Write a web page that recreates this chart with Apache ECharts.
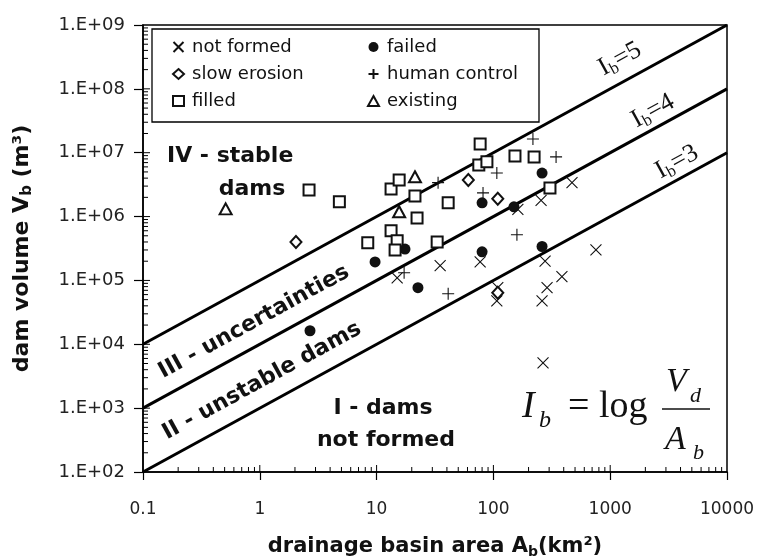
<!DOCTYPE html>
<html>
<head>
<meta charset="utf-8">
<script src="https://cdn.jsdelivr.net/npm/echarts@6/dist/echarts.min.js"></script>
<style>
  html, body { margin: 0; padding: 0; background: #fff; }
  #chart { width: 761px; height: 558px; }
</style>
</head>
<body>
<div id="chart"></div>
<script>
// Landslide dams: drainage basin area A_b (km²) against dam volume V_b (m³), by outcome.
const notFormed = [
  [471, 3.4e6], [256, 1.8e6], [162, 1.3e6], [77, 1.95e5], [277, 2.0e5], [755, 3.0e5],
  [35, 1.7e5], [15, 1.1e5], [109, 7.7e4], [107, 4.8e4], [386, 1.15e5], [288, 7.7e4],
  [261, 4.8e4], [266, 5.1e3]
];
const slowErosion = [[2.04, 4.0e5], [61, 3.75e6], [109, 1.9e6], [109, 6.4e4]];
const filled = [
  [2.64, 2.6e6], [4.8, 1.7e6], [13.3, 2.7e6], [15.6, 3.75e6], [21.3, 2.1e6], [22.2, 9.5e5],
  [13.3, 6.0e5], [8.4, 3.9e5], [15.0, 4.2e5], [14.4, 3.0e5], [33, 4.0e5], [41, 1.64e6],
  [77, 1.37e7], [75, 6.4e6], [88, 7.2e6], [153, 8.9e6], [223, 8.6e6], [305, 2.8e6]
];
const failed = [
  [2.69, 1.63e4], [9.7, 1.95e5], [17.5, 3.1e5], [22.6, 7.7e4], [80, 1.64e6], [80, 2.8e5],
  [150, 1.42e6], [261, 4.8e6], [261, 3.4e5]
];
const humanControl = [
  [33.6, 3.4e6], [81.5, 2.35e6], [107, 4.8e6], [218, 1.64e7], [344, 8.6e6], [159, 5.2e5],
  [17.2, 1.32e5], [41, 6.2e4]
];
const existing = [[0.51, 1.32e6], [21.3, 4.2e6], [15.6, 1.19e6]];

// Blockage index boundaries I_b = log(V/A): end points across the plotted range
const ib3Line = [[0.1, 1e2], [1e4, 1e7]];
const ib4Line = [[0.1, 1e3], [1e4, 1e8]];
const ib5Line = [[0.1, 1e4], [1e4, 1e9]];

// Axis tick labels (one per decade)
const xTickLabels = ['0.1', '1', '10', '100', '1000', '10000'];
const yTickLabels = ['1.E+02', '1.E+03', '1.E+04', '1.E+05', '1.E+06', '1.E+07', '1.E+08', '1.E+09'];

// Logarithmic minor ticks and the inner halves of the decade ticks
const xMinorTicks = [
  0.2, 0.3, 0.4, 0.5, 0.6, 0.7, 0.8, 0.9,
  2, 3, 4, 5, 6, 7, 8, 9,
  20, 30, 40, 50, 60, 70, 80, 90,
  200, 300, 400, 500, 600, 700, 800, 900,
  2000, 3000, 4000, 5000, 6000, 7000, 8000, 9000
];
const xMajorTicks = [1, 10, 100, 1000];
const yMinorTicks = [
  200, 300, 400, 500, 600, 700, 800, 900,
  2e3, 3e3, 4e3, 5e3, 6e3, 7e3, 8e3, 9e3,
  2e4, 3e4, 4e4, 5e4, 6e4, 7e4, 8e4, 9e4,
  2e5, 3e5, 4e5, 5e5, 6e5, 7e5, 8e5, 9e5,
  2e6, 3e6, 4e6, 5e6, 6e6, 7e6, 8e6, 9e6,
  2e7, 3e7, 4e7, 5e7, 6e7, 7e7, 8e7, 9e7,
  2e8, 3e8, 4e8, 5e8, 6e8, 7e8, 8e8, 9e8
];
const yMajorTicks = [1e3, 1e4, 1e5, 1e6, 1e7, 1e8];

const SANS = "'DejaVu Sans', 'Noto Sans', sans-serif";
const SERIF = "'Liberation Serif', 'DejaVu Serif', serif";
const INK = '#111';
const X_MIN = 0.1, Y_MIN = 100;

const crossPath = 'path://M0,0L10,10M10,0L0,10';
const plusPath = 'path://M5,0L5,10M0,5L10,5';

function pointSeries(name, data, symbol, size, filledMark) {
  return {
    name, type: 'scatter', data, symbol, symbolSize: size, z: 5,
    itemStyle: filledMark
      ? { color: INK, borderWidth: 0, opacity: 1 }
      : { color: symbol.indexOf('path://') === 0 ? 'none' : INK, borderColor: INK, borderWidth: 1.1, opacity: 1 }
  };
}

function boundary(name, data) {
  return {
    name, type: 'line', data, symbol: 'none', silent: true, z: 3,
    lineStyle: { color: '#000', width: 3 }
  };
}

// Short ticks drawn inward from the axis lines, placed through the axis scales
function xTickSeries(values, len) {
  return {
    type: 'custom', silent: true, z: 4, clip: false,
    data: values.map(v => [v, Y_MIN]),
    renderItem: (params, api) => {
      const p = api.coord([api.value(0), api.value(1)]);
      return { type: 'line', shape: { x1: p[0], y1: p[1], x2: p[0], y2: p[1] - len },
               style: { stroke: '#000', lineWidth: 1 } };
    }
  };
}
function yTickSeries(values, len) {
  return {
    type: 'custom', silent: true, z: 4, clip: false,
    data: values.map(v => [X_MIN, v]),
    renderItem: (params, api) => {
      const p = api.coord([api.value(0), api.value(1)]);
      return { type: 'line', shape: { x1: p[0], y1: p[1], x2: p[0] + len, y2: p[1] },
               style: { stroke: '#000', lineWidth: 1 } };
    }
  };
}

const boldText = (text, x, y, opts) => Object.assign({
  type: 'text', x, y, z: 6, silent: true,
  style: { text, fontFamily: SANS, fontWeight: 'bold', fontSize: 22, fill: INK,
           align: 'center', verticalAlign: 'middle' }
}, opts || {});

const ANGLE = 28.7 * Math.PI / 180;

const ibRich = {
  a: { fontFamily: SERIF, fontSize: 26, fill: INK, color: INK },
  s: { fontFamily: SERIF, fontSize: 17, fill: INK, color: INK, padding: [12, 0, 0, 0] }
};
const ibLabel = (n, x, y) => ({
  type: 'text', x, y, rotation: ANGLE, z: 6, silent: true,
  style: { text: '{a|I}{s|b}{a|=' + n + '}', rich: ibRich, align: 'center', verticalAlign: 'middle' }
});

const serifText = (text, x, y, size, italic) => ({
  type: 'text', x, y, z: 6, silent: true,
  style: { text, fontFamily: SERIF, fontSize: size, fontStyle: italic ? 'italic' : 'normal',
           fill: INK, align: 'left', verticalAlign: 'middle' }
});

const legendText = { fontSize: 18, lineHeight: 18, fontFamily: SANS, color: INK, padding: [0, 0, 0, 3] };

const chart = echarts.init(document.getElementById('chart'), null, { renderer: 'canvas' });

chart.setOption({
  animation: false,
  backgroundColor: '#fff',
  grid: { left: 143, right: 34, top: 25, bottom: 86, show: true, borderColor: '#000', borderWidth: 1.5,
          backgroundColor: 'transparent', containLabel: false, outerBoundsMode: 'none' },
  xAxis: {
    type: 'log', logBase: 10, min: 0.1, max: 10000, splitNumber: 5,
    axisLine: { show: true, onZero: false, lineStyle: { color: '#000', width: 1.5 } },
    axisTick: { show: true, inside: false, length: 8, lineStyle: { color: '#000', width: 1.2 } },
    minorTick: { show: false },
    splitLine: { show: false },
    axisLabel: {
      margin: 29, fontSize: 17, fontFamily: SANS, color: '#222',
      formatter: v => xTickLabels[Math.round(Math.log10(v)) + 1]
    },
    name: '{t|drainage basin area A}{s|b}{t|(km²)}',
    nameLocation: 'middle', nameGap: 63,
    nameTextStyle: {
      rich: {
        t: { fontSize: 21, fontWeight: 'bold', fontFamily: SANS, color: INK },
        s: { fontSize: 14, fontWeight: 'bold', fontFamily: SANS, color: INK, padding: [10, 0, 0, 0] }
      }
    }
  },
  yAxis: {
    type: 'log', logBase: 10, min: 100, max: 1e9, splitNumber: 7,
    axisLine: { show: true, onZero: false, lineStyle: { color: '#000', width: 1.5 } },
    axisTick: { show: true, inside: false, length: 9, lineStyle: { color: '#000', width: 1.2 } },
    minorTick: { show: false },
    splitLine: { show: false },
    axisLabel: {
      margin: 18, fontSize: 18, fontFamily: SANS, color: '#222',
      formatter: v => yTickLabels[Math.round(Math.log10(v)) - 2]
    },
    name: '{t|dam volume V}{s|b}{t| (m³)}',
    nameLocation: 'middle', nameGap: 108, nameRotate: 90,
    nameTextStyle: {
      rich: {
        t: { fontSize: 22, fontWeight: 'bold', fontFamily: SANS, color: INK },
        s: { fontSize: 15, fontWeight: 'bold', fontFamily: SANS, color: INK, padding: [10, 0, 0, 0] }
      }
    }
  },
  legend: [
    {
      data: ['not formed', 'slow erosion', 'filled'], orient: 'vertical', padding: 0,
      left: 171, top: 38, itemWidth: 11, itemHeight: 10, itemGap: 9,
      textStyle: legendText, selectedMode: false
    },
    {
      data: ['failed', 'human control', 'existing'], orient: 'vertical', padding: 0,
      left: 366, top: 38, itemWidth: 11, itemHeight: 10, itemGap: 9,
      textStyle: legendText, selectedMode: false
    }
  ],
  graphic: [
    { type: 'rect', z: 3, silent: true, shape: { x: 152, y: 29, width: 387, height: 93 },
      style: { fill: '#fff', stroke: '#000', lineWidth: 1.3 } },
    boldText('IV - stable', 167, 156, { style: { text: 'IV - stable', fontFamily: SANS, fontWeight: 'bold',
      fontSize: 22, fill: INK, align: 'left', verticalAlign: 'middle' } }),
    boldText('dams', 252, 189),
    boldText('III - uncertainties', 254, 322, { rotation: ANGLE }),
    boldText('II - unstable dams', 262, 381, { rotation: ANGLE }),
    boldText('I - dams', 383, 408),
    boldText('not formed', 386, 440),
    ibLabel(5, 620, 59),
    ibLabel(4, 653, 111),
    ibLabel(3, 677, 162),
    serifText('I', 522, 407, 38, true),
    serifText('b', 539, 421, 24, true),
    serifText('= log', 568, 407, 38, false),
    { type: 'line', z: 6, silent: true, shape: { x1: 662, y1: 409, x2: 710, y2: 409 },
      style: { stroke: INK, lineWidth: 1.5 } },
    serifText('V', 666, 382, 34, true),
    serifText('d', 690, 396, 22, true),
    serifText('A', 665, 440, 34, true),
    serifText('b', 693, 453, 22, true)
  ],
  series: [
    boundary('Ib=3', ib3Line),
    boundary('Ib=4', ib4Line),
    boundary('Ib=5', ib5Line),
    pointSeries('not formed', notFormed, crossPath, 11, false),
    pointSeries('failed', failed, 'circle', 11, true),
    pointSeries('slow erosion', slowErosion, 'emptyDiamond', [11, 12], false),
    pointSeries('human control', humanControl, plusPath, 12, false),
    pointSeries('filled', filled, 'emptyRect', 11, false),
    pointSeries('existing', existing, 'emptyTriangle', [12, 11], false),
    xTickSeries(xMinorTicks, 5),
    xTickSeries(xMajorTicks, 7),
    yTickSeries(yMinorTicks, 5),
    yTickSeries(yMajorTicks, 7)
  ]
});
</script>
</body>
</html>
